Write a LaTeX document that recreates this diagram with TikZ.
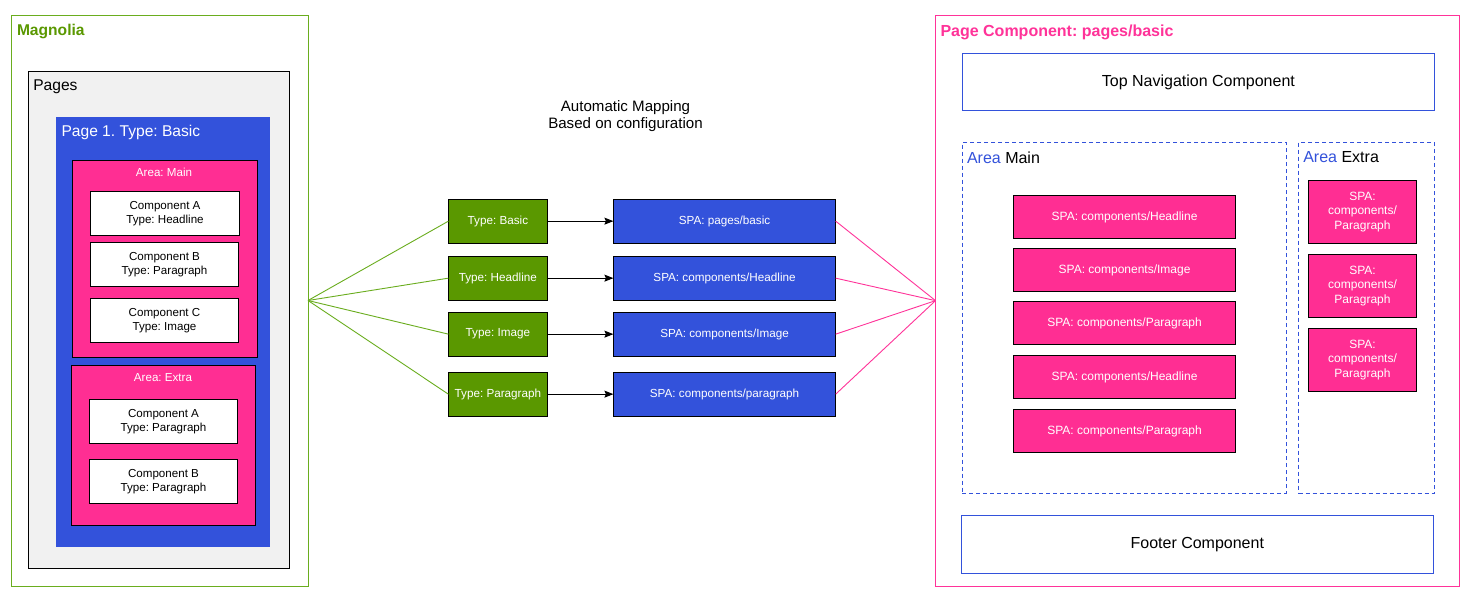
\documentclass[tikz,border=0pt]{standalone}
\usepackage{fontspec}
\setmainfont{Liberation Sans}
\usetikzlibrary{arrows.meta}
\definecolor{mgreen}{HTML}{5A9800}
\definecolor{lgreen}{HTML}{6AAD1E}
\definecolor{mblue}{HTML}{3352DB}
\definecolor{mpink}{HTML}{FF2E93}
\definecolor{lpink}{HTML}{FF3399}
\definecolor{mgray}{HTML}{F1F1F1}
\newcommand\myBig{\fontsize{15.6}{18}\selectfont}
\newcommand\myBigR{\fontsize{16}{18.5}\selectfont}
\newcommand\mySmall{\fontsize{11.6}{14.2}\selectfont}
\newcommand\mySmallR{\fontsize{12}{14.5}\selectfont}
\newcommand\myMid{\fontsize{11.7}{14}\selectfont}
\newcommand\myMap{\fontsize{15.1}{17}\selectfont}
\frenchspacing
\begin{document}
\frenchspacing
\begin{tikzpicture}[x=1pt,y=-1pt,
  box/.style={draw, line width=1pt, inner sep=0pt, outer sep=0pt, anchor=north west, align=center},
  title/.style={inner sep=0pt, outer sep=0pt, anchor=west, font=\myBig},
  comp/.style={box, fill=white, text=black, font=\mySmall, minimum width=148pt, minimum height=44pt},
  greenbox/.style={box, fill=mgreen, text=white, font=\myMid, minimum width=99pt, minimum height=43.7pt},
  bluebox/.style={box, fill=mblue, text=white, font=\myMid, minimum width=222.3pt, minimum height=43.7pt},
  pinkmain/.style={box, fill=mpink, text=white, font=\mySmallR, minimum width=222.5pt, minimum height=43.3pt},
  pinkextra/.style={box, fill=mpink, text=white, font=\mySmallR, minimum width=108.2pt, minimum height=63.5pt},
  areadash/.style={box, draw=mblue, dash pattern=on 4pt off 3pt, minimum height=350.7pt},
  gline/.style={draw=lgreen, line width=0.9pt},
  pline/.style={draw=lpink, line width=0.9pt},
  arr/.style={draw=black, line width=1pt, -{Stealth[length=9pt,width=7pt,inset=1.5pt]}}
]
\useasboundingbox (0,0) rectangle (1470,597);
\fill[white] (0,0) rectangle (1470,597);

% ---------------- Left: Magnolia ----------------
\node[box, draw=lgreen, minimum width=297pt, minimum height=571pt] (mag) at (11,15) {};
\node[title, font=\myBig\bfseries, text=mgreen] (magt) at (17,31.5) {Magnolia};
\node[box, fill=mgray, minimum width=261pt, minimum height=497pt] (pages) at (28,71) {};
\node[title] (pagest) at (33.3,87) {Pages};
\node[box, draw=none, fill=mblue, minimum width=214pt, minimum height=430pt] (page1) at (56,117) {};
\node[title, text=white] (page1t) at (61.5,132.5) {Page 1. Type: Basic};

\node[box, fill=mpink, minimum width=185pt, minimum height=197pt] (amain) at (72,160.3) {};
\node[inner sep=0pt, text=white, font=\mySmall] (amaint) at (164,172) {Area: Main};
\node[comp, minimum width=148.6pt] (ca) at (90.7,191.7) {Component A\\Type: Headline};
\node[comp] (cb) at (90.5,242.3) {Component B\\Type: Paragraph};
\node[comp] (cc) at (90.5,298.3) {Component C\\Type: Image};

\node[box, fill=mpink, minimum width=184pt, minimum height=160pt] (aextra) at (71.5,365.3) {};
\node[inner sep=0pt, text=white, font=\mySmall] (aextrat) at (163,377.2) {Area: Extra};
\node[comp] (ea) at (89.5,399.3) {Component A\\Type: Paragraph};
\node[comp] (eb) at (89.5,459.3) {Component B\\Type: Paragraph};

% ---------------- Middle ----------------
\node[align=center, font=\myMap, inner sep=0pt] (map) at (625.5,116.5) {Automatic Mapping\\Based on configuration};

\node[greenbox] (g1) at (448.4,199.3) {Type: Basic};
\node[greenbox] (g2) at (448.4,256.3) {Type: Headline};
\node[greenbox] (g3) at (448.4,312.3) {Type: Image};
\node[greenbox] (g4) at (448.4,372.3) {Type: Paragraph};

\node[bluebox] (b1) at (613.4,199.3) {SPA: pages/basic};
\node[bluebox] (b2) at (613.4,256.3) {SPA: components/Headline};
\node[bluebox] (b3) at (613.4,312.3) {SPA: components/Image};
\node[bluebox] (b4) at (613.4,372.3) {SPA: components/paragraph};

% ---------------- Right: Page Component ----------------
\node[box, draw=lpink, minimum width=523.8pt, minimum height=570.7pt] (pc) at (935.5,15.3) {};
\node[title, font=\myBigR\bfseries, text=lpink] (pct) at (940.5,32) {Page Component: pages/basic};

\node[box, draw=mblue, font=\myBigR, minimum width=472pt, minimum height=57.5pt] (topnav) at (962.4,53.3) {Top Navigation Component};

\node[areadash, minimum width=324pt] (rmain) at (962.4,142.3) {};
\node[title, font=\myBigR] (rmaint) at (967,157.5) {\textcolor{mblue}{Area} Main};
\node[areadash, minimum width=136pt] (rextra) at (1298.5,142.3) {};
\node[title, font=\myBigR] (rextrat) at (1303.3,157.5) {\textcolor{mblue}{Area} Extra};

\node[pinkmain] (r1) at (1013.3,195.3) {SPA: components/Headline};
\node[pinkmain] (r2) at (1013.3,248.3) {SPA: components/Image};
\node[pinkmain] (r3) at (1013.3,301.3) {SPA: components/Paragraph};
\node[pinkmain] (r4) at (1013.3,355.3) {SPA: components/Headline};
\node[pinkmain] (r5) at (1013.3,409.3) {SPA: components/Paragraph};

\node[pinkextra] (x1) at (1308.4,180.3) {SPA:\\components/\\Paragraph};
\node[pinkextra] (x2) at (1308.4,254.3) {SPA:\\components/\\Paragraph};
\node[pinkextra] (x3) at (1308.4,328.3) {SPA:\\components/\\Paragraph};

\node[box, draw=mblue, font=\myBigR, minimum width=472pt, minimum height=58pt] (footer) at (961.3,515.3) {Footer Component};

% ---------------- Connectors ----------------
\foreach \g in {g1,g2,g3,g4} \draw[gline] (mag.east) -- (\g.west);
\foreach \b in {b1,b2,b3,b4} \draw[pline] (\b.east) -- (pc.west);
\draw[arr] (g1.east) -- (b1.west);
\draw[arr] (g2.east) -- (b2.west);
\draw[arr] (g3.east) -- (b3.west);
\draw[arr] (g4.east) -- (b4.west);
\end{tikzpicture}
\end{document}
